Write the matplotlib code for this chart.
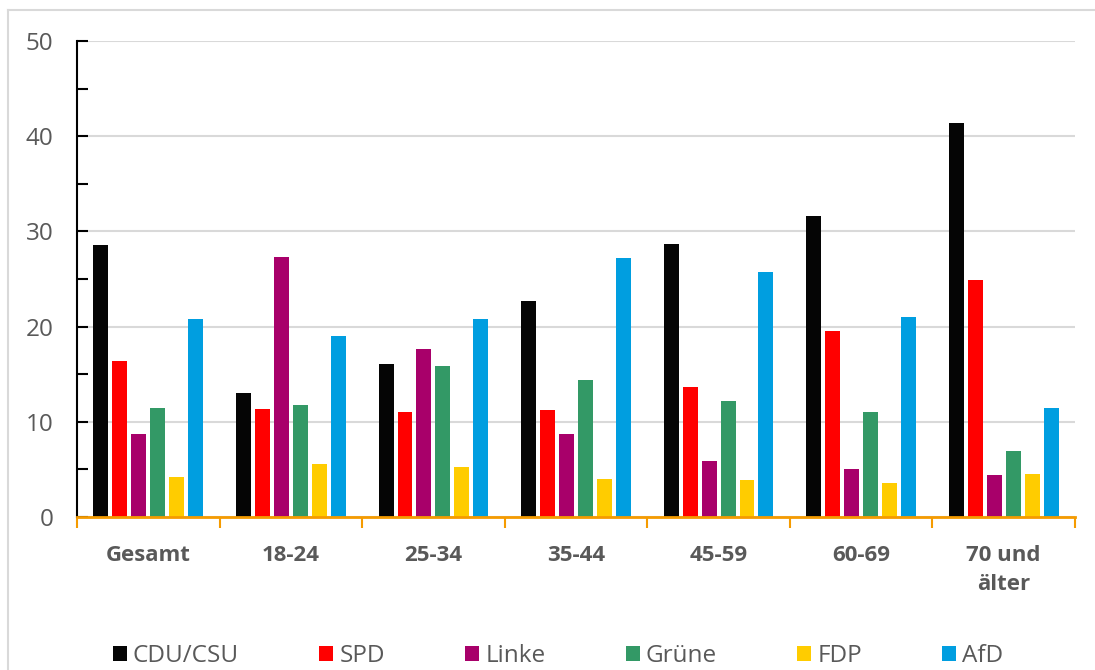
import matplotlib
matplotlib.use("Agg")
import matplotlib.pyplot as plt
import numpy as np
from matplotlib.lines import Line2D

categories = ["Gesamt", "18-24", "25-34", "35-44", "45-59", "60-69", "70 und\nälter"]
parties = ["CDU/CSU", "SPD", "Linke", "Grüne", "FDP", "AfD"]
cdu = [28.6, 13.0, 16.1, 22.7, 28.7, 31.6, 41.4]
spd = [16.4, 11.3, 11.0, 11.2, 13.7, 19.5, 24.9]
linke = [8.7, 27.3, 17.6, 8.7, 5.9, 5.0, 4.4]
gruene = [11.5, 11.8, 15.9, 14.4, 12.2, 11.0, 6.9]
fdp = [4.2, 5.6, 5.2, 4.0, 3.9, 3.6, 4.5]
afd = [20.8, 19.0, 20.8, 27.2, 25.7, 21.0, 11.5]
series = [cdu, spd, linke, gruene, fdp, afd]
colors = ["#050505", "#FF0000", "#A8006A", "#339966", "#FFCC00", "#009EE0"]

plt.rcParams['font.family'] = ['Open Sans', 'DejaVu Sans']
txt = "#595959"

fig = plt.figure(figsize=(10.95, 6.70), dpi=100)
ax = fig.add_axes([77/1095, 1 - 517/670, (1075-77)/1095, (517-41)/670])

x = np.arange(len(categories))
step = 0.133
width = 0.105
for i, (vals, c, name) in enumerate(zip(series, colors, parties)):
    ax.bar(x + (i - 2.5) * step, vals, width=width, color=c, label=name, zorder=3)

ax.set_xlim(-0.5, len(categories) - 0.5)
ax.set_ylim(0, 50)
ax.set_yticks(np.arange(0, 51, 10))
ax.set_yticks(np.arange(5, 50, 10), minor=True)
ax.yaxis.grid(True, which='major', color="#D9D9D9", linewidth=1.5, zorder=0)
ax.tick_params(axis='y', which='both', direction='in', length=8, width=1.5,
               color='black', labelsize=17.5, labelcolor=txt, pad=17)
ax.set_xticks(x)
ax.set_xticklabels(categories, fontsize=16, fontweight='bold', color=txt, linespacing=1.5)
ax.set_xticks(np.arange(-0.5, len(categories), 1), minor=True)
ax.tick_params(axis='x', which='major', length=0, pad=20)
ax.tick_params(axis='x', which='minor', direction='out', length=8, width=1.5, color="#F59B00")

for s in ['top', 'right']:
    ax.spines[s].set_visible(False)
ax.spines['left'].set_color('black')
ax.spines['left'].set_linewidth(1.5)
ax.spines['bottom'].set_color("#F59B00")
ax.spines['bottom'].set_linewidth(2)
ax.spines['bottom'].set_zorder(4)

leg = fig.legend(loc='center', bbox_to_anchor=(558/1095, 1 - 656/670), ncol=6, frameon=False,
                 fontsize=17.5, handlelength=0.58, handleheight=0.58, handletextpad=0.25,
                 columnspacing=3.3, labelcolor=txt)

fig.add_artist(Line2D([8/1095, 8/1095], [0, 1 - 10/670], color="#D9D9D9", linewidth=1.5,
                      transform=fig.transFigure))
fig.add_artist(Line2D([8/1095, 1], [1 - 10/670, 1 - 10/670], color="#D9D9D9", linewidth=1.5,
                      transform=fig.transFigure))

fig.savefig("out.png", dpi=100)
